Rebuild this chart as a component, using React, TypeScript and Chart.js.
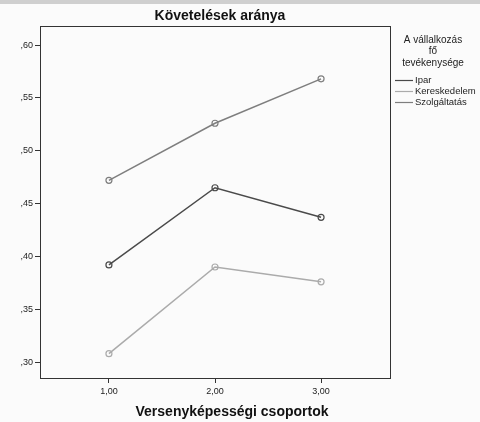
import React, { useEffect, useRef } from "react";
import { Chart, registerables } from "chart.js";

Chart.register(...registerables);

const chartTitle = "Követelések aránya";
const xAxisTitle = "Versenyképességi csoportok";
const legendTitle = ["A vállalkozás", "fő", "tevékenysége"];
const xValues = [1, 2, 3];
const xTicks = [1, 2, 3];
const yTicks = [0.3, 0.35, 0.4, 0.45, 0.5, 0.55, 0.6];
const seriesNames = ["Ipar", "Kereskedelem", "Szolgáltatás"];
const ipar = [0.392, 0.465, 0.437];
const kereskedelem = [0.308, 0.39, 0.376];
const szolgaltatas = [0.472, 0.526, 0.568];
const seriesColors = ["#4a4a4a", "#ababab", "#7e7e7e"];

const FONT = "'Liberation Sans', Arial, sans-serif";

const fmt = (v: number, lead: boolean) => {
  const s = v.toFixed(2).replace(".", ",");
  return lead ? s : s.replace(/^0/, "");
};

export default function App() {
  const ref = useRef<HTMLCanvasElement | null>(null);

  useEffect(() => {
    if (!ref.current) return;
    const series = [ipar, kereskedelem, szolgaltatas];
    const decor = {
      id: "decor",
      beforeDraw(chart: any) {
        const ctx = chart.ctx;
        ctx.save();
        ctx.fillStyle = "#fbfbfb";
        ctx.fillRect(0, 0, chart.width, chart.height);
        ctx.fillStyle = "#cfcfcf";
        ctx.fillRect(0, 0, chart.width, 4);
        ctx.restore();
      },
      afterDraw(chart: any) {
        const ctx = chart.ctx;
        const a = chart.chartArea;
        ctx.save();
        ctx.strokeStyle = "#333";
        ctx.lineWidth = 1;
        ctx.strokeRect(Math.round(a.left) + 0.5, Math.round(a.top) + 0.5, Math.round(a.right - a.left), Math.round(a.bottom - a.top));
        ctx.fillStyle = "#111";
        ctx.textAlign = "center";
        ctx.textBaseline = "middle";
        ctx.font = `bold 14px ${FONT}`;
        ctx.fillText(chartTitle, 220, 16);
        ctx.font = `bold 14px ${FONT}`;
        ctx.fillText(xAxisTitle, 232, 412);
        // legend
        ctx.font = `10px ${FONT}`;
        ctx.fillStyle = "#222";
        legendTitle.forEach((t, i) => ctx.fillText(t, 433, 40 + i * 11.5));
        ctx.textAlign = "left";
        ctx.font = `9.5px ${FONT}`;
        chart.data.datasets.forEach((ds: any, i: number) => {
          const y = 80 + i * 11;
          ctx.strokeStyle = ds.borderColor;
          ctx.lineWidth = 1.2;
          ctx.beginPath();
          ctx.moveTo(395, y + 0.5);
          ctx.lineTo(413, y + 0.5);
          ctx.stroke();
          ctx.fillStyle = "#222";
          ctx.fillText(ds.label, 415, y);
        });
        ctx.restore();
      },
    };

    const chart = new Chart(ref.current, {
      type: "line",
      data: {
        datasets: seriesNames.map((name, i) => ({
          label: name,
          data: xValues.map((x, j) => ({ x, y: series[i][j] })),
          borderColor: seriesColors[i],
          backgroundColor: "rgba(255,255,255,0)",
          borderWidth: 1.5,
          pointRadius: 3,
          pointBorderWidth: 1.2,
          pointBorderColor: seriesColors[i],
          pointBackgroundColor: "rgba(255,255,255,0)",
          tension: 0,
        })),
      },
      options: {
        responsive: false,
        animation: false,
        layout: { padding: { left: 0, top: 26, right: 90, bottom: 0 } },
        plugins: {
          legend: { display: false },
          title: { display: false },
          tooltip: { enabled: false },
        },
        scales: {
          x: {
            type: "linear",
            min: 0.35,
            max: 3.65,
            afterBuildTicks: (s: any) => {
              s.ticks = xTicks.map((v) => ({ value: v }));
            },
            afterFit: (s: any) => {
              s.height = 44;
            },
            border: { display: true, color: "#333" },
            grid: { drawOnChartArea: false, drawTicks: true, tickLength: 5, tickColor: "#333" },
            ticks: {
              padding: 3,
              color: "#222",
              font: { family: FONT, size: 9 },
              maxRotation: 0,
              callback: (v: any) => fmt(Number(v), true),
            },
          },
          y: {
            type: "linear",
            min: 0.285,
            max: 0.618,
            afterBuildTicks: (s: any) => {
              s.ticks = yTicks.map((v) => ({ value: v }));
            },
            afterFit: (s: any) => {
              s.width = 40;
            },
            border: { display: true, color: "#333" },
            grid: { drawOnChartArea: false, drawTicks: true, tickLength: 5, tickColor: "#333" },
            ticks: {
              padding: 2,
              color: "#222",
              font: { family: FONT, size: 9 },
              callback: (v: any) => fmt(Number(v), false),
            },
          },
        },
      },
      plugins: [decor],
    } as any);
    return () => chart.destroy();
  }, []);

  return (
    <div style={{ position: "fixed", left: 0, top: 0, width: 480, height: 422 }}>
      <canvas ref={ref} width={480} height={422} style={{ width: 480, height: 422 }} />
    </div>
  );
}
